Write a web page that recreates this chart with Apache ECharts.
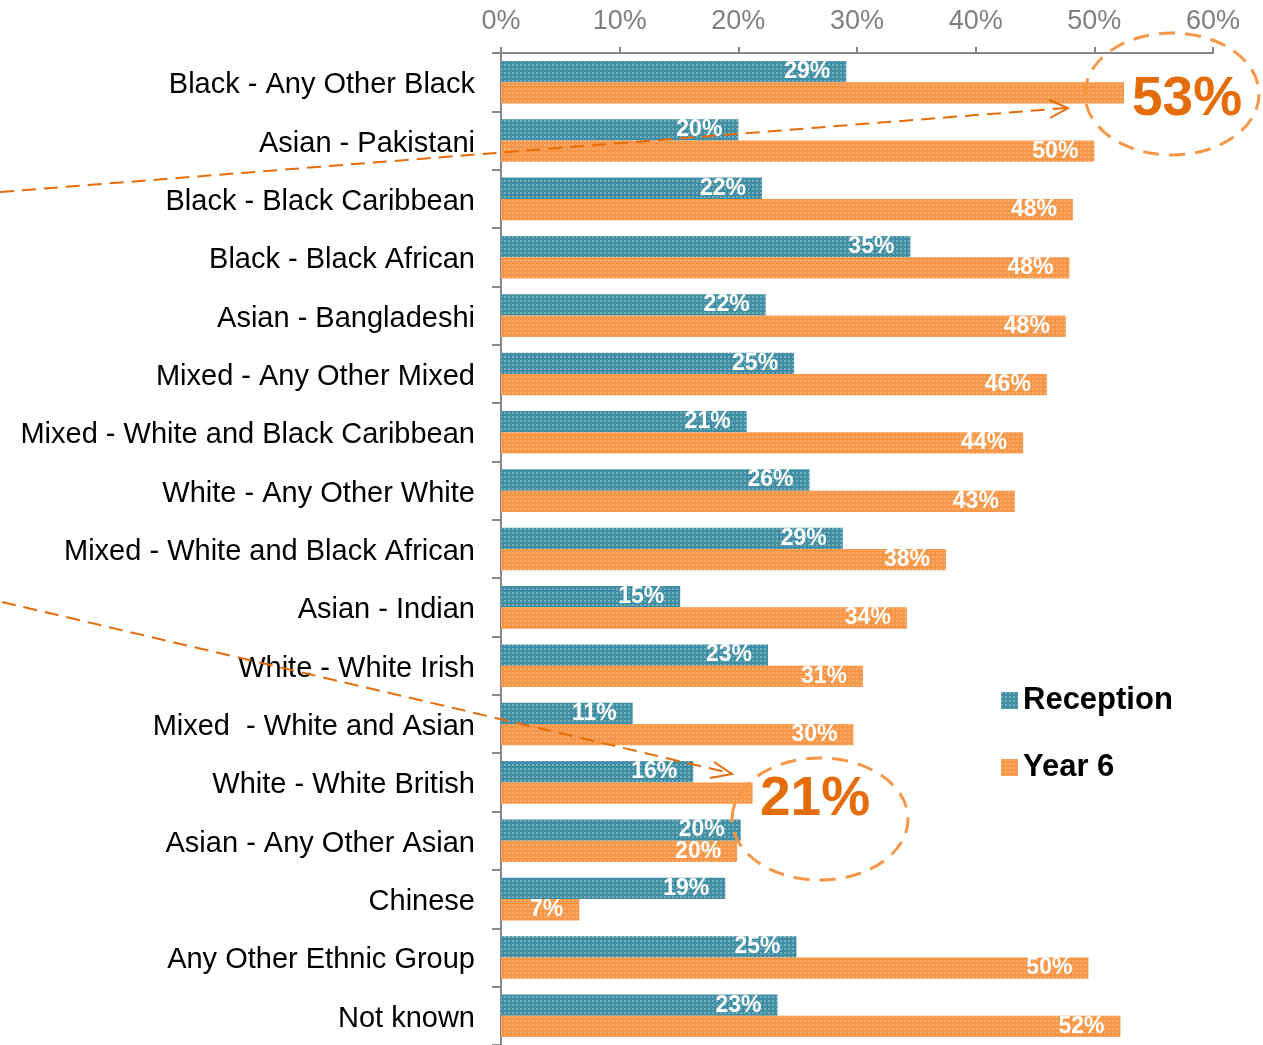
<!DOCTYPE html>
<html>
<head>
<meta charset="utf-8">
<script src="https://cdn.jsdelivr.net/npm/echarts@6/dist/echarts.min.js"></script>
<style>
html,body{margin:0;padding:0;background:#fff;}
#chart{width:1263px;height:1045px;}
</style>
</head>
<body>
<div id="chart"></div>
<script>
var categories = [
  "Black - Any Other Black",
  "Asian - Pakistani",
  "Black - Black Caribbean",
  "Black - Black African",
  "Asian - Bangladeshi",
  "Mixed - Any Other Mixed",
  "Mixed - White and Black Caribbean",
  "White - Any Other White",
  "Mixed - White and Black African",
  "Asian - Indian",
  "White - White Irish",
  "Mixed  - White and Asian",
  "White - White British",
  "Asian - Any Other Asian",
  "Chinese",
  "Any Other Ethnic Group",
  "Not known"
];
var reception = [29.1, 20.0, 22.0, 34.5, 22.3, 24.7, 20.7, 26.0, 28.8, 15.1, 22.5, 11.1, 16.2, 20.2, 18.9, 24.9, 23.3];
var year6 = [52.5, 50.0, 48.2, 47.9, 47.6, 46.0, 44.0, 43.3, 37.5, 34.2, 30.5, 29.7, 21.2, 19.9, 6.6, 49.5, 52.2];
var year6HiddenLabels = [0, 12];
var xTicks = [0, 10, 20, 30, 40, 50, 60];

var FONT = "'Liberation Sans', Arial, sans-serif";
var chart = echarts.init(document.getElementById('chart'), null, {renderer: 'canvas'});

function labelCfg() {
  return {
    show: true,
    position: 'insideRight',
    distance: 16,
    color: '#ffffff',
    fontFamily: FONT,
    fontWeight: 'bold',
    fontSize: 23,
    formatter: function (p) { return Math.round(p.value) + '%'; }
  };
}

var y6Data = year6.map(function (v, i) {
  if (year6HiddenLabels.indexOf(i) >= 0) return {value: v, label: {show: false}};
  return v;
});

var dash1 = [14, 8];
var dashE = [16, 10];

chart.setOption({
  animation: false,
  backgroundColor: '#ffffff',
  grid: {left: 501, right: 50, top: 53, height: 997, containLabel: false},
  legend: {
    orient: 'vertical',
    left: 996,
    top: 680,
    itemWidth: 17,
    itemHeight: 17,
    itemGap: 36,
    icon: 'rect',
    textStyle: {color: '#000', fontFamily: FONT, fontWeight: 'bold', fontSize: 31},
    data: ['Reception', 'Year 6']
  },
  xAxis: {
    type: 'value',
    position: 'top',
    min: 0, max: 60, interval: 10,
    axisLine: {show: true, lineStyle: {color: '#868686', width: 2}},
    axisTick: {show: true, length: 6, lineStyle: {color: '#868686', width: 2}},
    splitLine: {show: false},
    axisLabel: {
      formatter: function (v) { return v + '%'; },
      color: '#7f7f7f', fontFamily: FONT, fontSize: 27, margin: 18
    },
    data: xTicks
  },
  yAxis: {
    type: 'category',
    inverse: true,
    data: categories,
    axisLine: {show: true, lineStyle: {color: '#868686', width: 2}},
    axisTick: {show: true, length: 9, lineStyle: {color: '#868686', width: 2}},
    axisLabel: {
      color: '#000', fontFamily: FONT, fontSize: 29, margin: 26,
      formatter: function (v) { return '{a|' + v + '}'; },
      rich: {a: {color: '#000', fontFamily: FONT, fontSize: 29, padding: [6, 0, 0, 0]}}
    }
  },
  series: [
    {
      name: 'Reception',
      type: 'bar',
      data: reception,
      barGap: '0%',
      barCategoryGap: '27%',
      itemStyle: {
        color: '#3f8ea3',
        decal: {symbol: 'rect', symbolSize: 1, color: 'rgba(255,255,255,0.28)', dashArrayX: [2, 2], dashArrayY: [2, 2], rotation: 0}
      },
      label: labelCfg()
    },
    {
      name: 'Year 6',
      type: 'bar',
      data: y6Data,
      itemStyle: {
        color: '#f79646',
        decal: {symbol: 'rect', symbolSize: 1, color: 'rgba(255,255,255,0.22)', dashArrayX: [2, 2], dashArrayY: [2, 2], rotation: 0}
      },
      label: labelCfg()
    }
  ],
  graphic: [
    {type: 'line', silent: true, z: 100, shape: {x1: 0, y1: 192, x2: 1066, y2: 108}, style: {stroke: '#e46c0a', lineWidth: 2, lineDash: dash1}},
    {type: 'polyline', silent: true, z: 100, shape: {points: [[1049, 100], [1068, 108], [1050, 118]]}, style: {stroke: '#e46c0a', lineWidth: 2, fill: null}},
    {type: 'ellipse', silent: true, z: 100, shape: {cx: 1172, cy: 94, rx: 87, ry: 61}, style: {stroke: '#f79646', lineWidth: 3, fill: null, lineDash: dashE}},
    {type: 'text', silent: true, z: 101, style: {x: 1187, y: 100, text: '53%', fill: '#e46c0a', font: 'bold 55px ' + FONT, textAlign: 'center', textVerticalAlign: 'middle'}},
    {type: 'line', silent: true, z: 100, shape: {x1: 2, y1: 602, x2: 730, y2: 773}, style: {stroke: '#e46c0a', lineWidth: 2, lineDash: dash1}},
    {type: 'polyline', silent: true, z: 100, shape: {points: [[714, 762], [732, 774], [710, 778]]}, style: {stroke: '#e46c0a', lineWidth: 2, fill: null}},
    {type: 'ellipse', silent: true, z: 100, shape: {cx: 820, cy: 819, rx: 88, ry: 61}, style: {stroke: '#f79646', lineWidth: 3, fill: null, lineDash: dashE}},
    {type: 'text', silent: true, z: 101, style: {x: 815, y: 800, text: '21%', fill: '#e46c0a', font: 'bold 55px ' + FONT, textAlign: 'center', textVerticalAlign: 'middle'}}
  ]
});
</script>
</body>
</html>
